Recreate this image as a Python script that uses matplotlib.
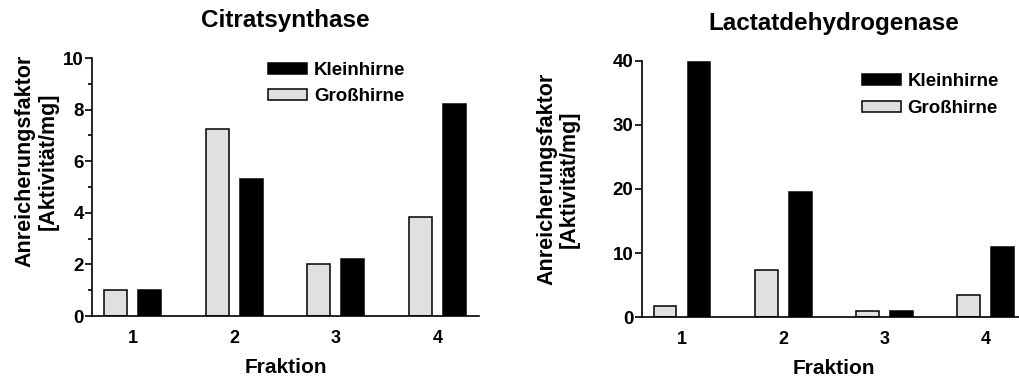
import numpy as np
import matplotlib
matplotlib.use('Agg')
import matplotlib.pyplot as plt
from matplotlib.patches import Patch
from matplotlib.ticker import MultipleLocator

plt.rcParams['font.family'] = ['Liberation Sans', 'DejaVu Sans']
plt.rcParams['font.weight'] = 'bold'

# Werte
fraktionen = ['1', '2', '3', '4']
cs_gross = [1.0, 7.25, 2.0, 3.85]
cs_klein = [1.0, 5.33, 2.2, 8.2]
ldh_gross = [1.8, 7.3, 1.0, 3.4]
ldh_klein = [39.8, 19.5, 1.0, 10.9]

gray = '#e0e0e0'
x = np.arange(1, 5)
w = 0.225
off = 0.168

fig = plt.figure(figsize=(10.19, 3.78), dpi=100)
ax1 = fig.add_axes([0.0903, 0.164, 0.3798, 0.6825])
ax2 = fig.add_axes([0.6297, 0.1606, 0.378, 0.679])


def draw(ax, gross, klein, title, ymax, major, minor, ylab_pos, leg_pos):
    ax.bar(x - off, gross, w, color=gray, edgecolor='black', linewidth=1.1)
    ax.bar(x + off, klein, w, color='black', edgecolor='black', linewidth=1.1)
    ax.set_xlim(0.6, 4.41)
    ax.set_ylim(0, ymax)
    ax.set_xticks(x)
    ax.set_xticklabels(fraktionen)
    ax.yaxis.set_major_locator(MultipleLocator(major))
    if minor:
        ax.yaxis.set_minor_locator(MultipleLocator(minor))
    for s in ['top', 'right']:
        ax.spines[s].set_visible(False)
    for s in ['left', 'bottom']:
        ax.spines[s].set_linewidth(1.2)
    ax.tick_params(axis='x', length=0, pad=10, labelsize=13)
    ax.tick_params(axis='y', which='major', length=5, width=1.2, labelsize=13.5, pad=1)
    ax.tick_params(axis='y', which='minor', length=3, width=1.2)
    ax.set_title(title, fontsize=17.5, fontweight='bold', pad=22)
    ax.set_xlabel('Fraktion', fontsize=15, fontweight='bold', labelpad=8)
    ax.set_ylabel('Anreicherungsfaktor\n[Aktivität/mg]', fontsize=15.5,
                  fontweight='bold', linespacing=1.1)
    ax.yaxis.label.set_verticalalignment('center')
    ax.yaxis.set_label_coords(*ylab_pos)
    handles = [Patch(facecolor='black', edgecolor='black', linewidth=1.1),
               Patch(facecolor=gray, edgecolor='black', linewidth=1.1)]
    ax.legend(handles, ['Kleinhirne', 'Großhirne'], loc='upper left',
              bbox_to_anchor=leg_pos, frameon=False, fontsize=13.5,
              borderaxespad=0, borderpad=0, handlelength=2.1,
              handleheight=0.55, handletextpad=0.35, labelspacing=0.5)


draw(ax1, cs_gross, cs_klein, 'Citratsynthase', 10, 2, 1,
     (-0.143, 0.60), (0.455, 0.985))
draw(ax2, ldh_gross, ldh_klein, 'Lactatdehydrogenase', 40, 10, None,
     (-0.217, 0.539), (0.571, 0.95))

fig.savefig('out.png', dpi=100)
